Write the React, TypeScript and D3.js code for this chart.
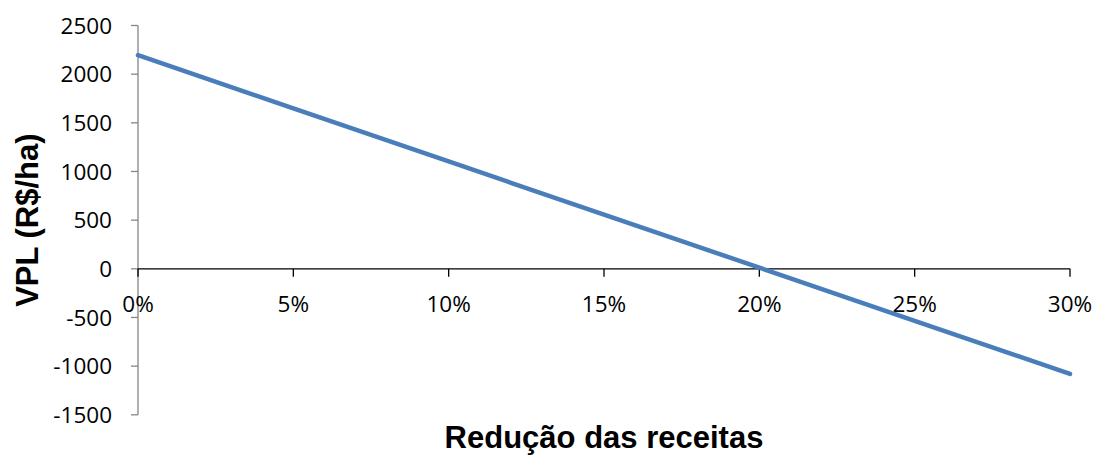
import React from "react";
import * as d3 from "d3";

const categories: number[] = [0, 0.05, 0.1, 0.15, 0.2, 0.25, 0.3];
const vplValues: number[] = [2195, 1649, 1103, 557, 12, -534, -1080];
const yTicks: number[] = [2500, 2000, 1500, 1000, 500, 0, -500, -1000, -1500];
const xTickLabels: string[] = ["0%", "5%", "10%", "15%", "20%", "25%", "30%"];

const W = 1096;
const H = 455;
const left = 138;
const right = 1070;
const top = 25.5;
const bottom = 414.8;

export default function App() {
  const x = d3.scaleLinear().domain([0, 0.3]).range([left, right]);
  const y = d3.scaleLinear().domain([-1500, 2500]).range([bottom, top]);
  const line = d3
    .line<number>()
    .x((_, i) => x(categories[i]))
    .y((d) => y(d));
  const tickFont = "'Open Sans', Lato, sans-serif";
  return (
    <svg width={W} height={H} style={{ position: "absolute", left: 0, top: 0 }}>
      <rect width={W} height={H} fill="#fff" />
      {/* y axis */}
      <line x1={left} x2={left} y1={top} y2={bottom} stroke="#868686" strokeWidth={1.3} />
      {yTicks.map((t) => (
        <g key={t}>
          <line x1={left - 7} x2={left} y1={y(t)} y2={y(t)} stroke="#868686" strokeWidth={1.3} />
          <text
            x={112}
            y={y(t)}
            dy="0.36em"
            textAnchor="end"
            fontFamily={tickFont}
            fontSize={22.5}
            fill="#000"
          >
            {t}
          </text>
        </g>
      ))}
      {/* x axis */}
      <line x1={left} x2={right} y1={y(0)} y2={y(0)} stroke="#000" strokeWidth={1.3} />
      {categories.map((c, i) => (
        <g key={c}>
          <line x1={x(c)} x2={x(c)} y1={y(0)} y2={y(0) + 8} stroke="#000" strokeWidth={1.3} />
          <text
            x={x(c)}
            y={y(0) + 43}
            textAnchor="middle"
            fontFamily={tickFont}
            fontSize={22.5}
            fill="#000"
          >
            {xTickLabels[i]}
          </text>
        </g>
      ))}
      {/* series */}
      <path d={line(vplValues) || ""} fill="none" stroke="#4a7ebb" strokeWidth={4.5} strokeLinecap="round" />
      {/* titles */}
      <text
        x={(left + right) / 2}
        y={448}
        textAnchor="middle"
        fontFamily="'Liberation Sans', Arial, sans-serif"
        fontWeight="bold"
        fontSize={31}
        fill="#000"
      >
        Redução das receitas
      </text>
      <text
        transform={`translate(38,${(top + bottom) / 2}) rotate(-90)`}
        textAnchor="middle"
        fontFamily="'Liberation Sans', Arial, sans-serif"
        fontWeight="bold"
        fontSize={31}
        fill="#000"
      >
        VPL (R$/ha)
      </text>
    </svg>
  );
}
